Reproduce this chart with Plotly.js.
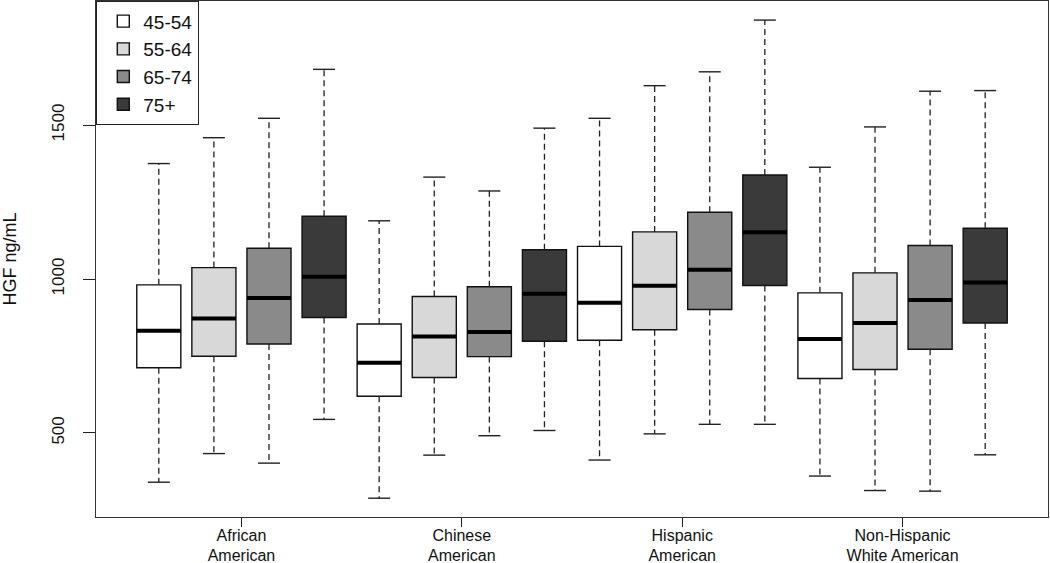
<!DOCTYPE html>
<html>
<head>
<meta charset="utf-8">
<script src="https://cdn.plot.ly/plotly-3.0.1.min.js"></script>
<style>
html,body{margin:0;padding:0;background:#fff;}
#chart{width:1050px;height:563px;}
</style>
</head>
<body>
<div id="chart"></div>
<script>
// ---- data (HGF ng/mL) ----
const categories = ["African<br>American", "Chinese<br>American", "Hispanic<br>American", "Non-Hispanic<br>White American"];
const ageGroups = ["45-54", "55-64", "65-74", "75+"];
const fillColors = ["#FFFFFF", "#D8D8D8", "#8A8A8A", "#3A3A3A"];
// each row: one age group; columns follow categories
const lowerWhisker = [
  [340, 288, 412, 360],
  [433, 428, 497, 313],
  [402, 491, 528, 311],
  [544, 508, 528, 429]
];
const q1 = [
  [712, 619, 801, 677],
  [749, 680, 835, 706],
  [789, 748, 901, 772],
  [875, 798, 979, 857]
];
const median = [
  [832, 728, 923, 805],
  [872, 813, 978, 857],
  [938, 828, 1030, 932],
  [1007, 952, 1152, 989]
];
const q3 = [
  [981, 854, 1106, 955],
  [1037, 943, 1153, 1020],
  [1100, 975, 1217, 1109],
  [1204, 1095, 1338, 1165]
];
const upperWhisker = [
  [1375, 1189, 1522, 1363],
  [1459, 1331, 1628, 1494],
  [1522, 1286, 1673, 1610],
  [1681, 1490, 1841, 1612]
];
const yTicks = [500, 1000, 1500];

// ---- build traces ----
const nG = ageGroups.length;
const boxW = 0.8, capW = 0.4;
const pos = (a, e) => e * nG + a + 1;
const traces = [];
const medX = [], medY = [], whX = [], whY = [], capX = [], capY = [];
ageGroups.forEach((g, a) => {
  const xs = categories.map((c, e) => pos(a, e));
  traces.push({
    type: 'box', name: g, x: xs,
    q1: q1[a], median: median[a], q3: q3[a],
    lowerfence: q1[a], upperfence: q3[a],
    width: boxW, whiskerwidth: 0, boxpoints: false,
    fillcolor: fillColors[a],
    line: {color: '#111', width: 1.4},
    hoverinfo: 'skip'
  });
  xs.forEach((x, e) => {
    medX.push(x - boxW / 2, x + boxW / 2, null); medY.push(median[a][e], median[a][e], null);
    whX.push(x, x, null, x, x, null);
    whY.push(q3[a][e], upperWhisker[a][e], null, q1[a][e], lowerWhisker[a][e], null);
    capX.push(x - capW / 2, x + capW / 2, null, x - capW / 2, x + capW / 2, null);
    capY.push(upperWhisker[a][e], upperWhisker[a][e], null, lowerWhisker[a][e], lowerWhisker[a][e], null);
  });
});
traces.push({type: 'scatter', mode: 'lines', x: whX, y: whY, showlegend: false, hoverinfo: 'skip',
  line: {color: '#222', width: 1.3, dash: '6px,4px'}});
traces.push({type: 'scatter', mode: 'lines', x: capX, y: capY, showlegend: false, hoverinfo: 'skip',
  line: {color: '#222', width: 1.4}});
traces.push({type: 'scatter', mode: 'lines', x: medX, y: medY, showlegend: false, hoverinfo: 'skip',
  line: {color: '#000', width: 4}});

const groupCenters = categories.map((c, e) => e * nG + (nG + 1) / 2);

const font = 'Liberation Sans, Arial, Helvetica, sans-serif';
const layout = {
  width: 1050, height: 563,
  margin: {l: 96, r: 2, t: 1, b: 46},
  paper_bgcolor: '#fff', plot_bgcolor: '#fff',
  font: {family: font, color: '#111', size: 16},
  showlegend: true,
  legend: {x: 0, y: 1, xanchor: 'left', yanchor: 'top',
    bordercolor: '#222', borderwidth: 1.3, bgcolor: '#fff', indentation: 6, entrywidth: 104,
    font: {size: 19, family: font, color: '#111'}, tracegroupgap: 0},
  xaxis: {
    range: [-0.14, 17.14], tickmode: 'array', tickvals: groupCenters, ticktext: categories,
    ticks: 'outside', ticklen: 9, tickcolor: '#222', ticklabelstandoff: -6,
    showgrid: false, zeroline: false,
    showline: true, mirror: true, linecolor: '#333', linewidth: 1.3,
    tickfont: {size: 16}, fixedrange: true
  },
  yaxis: {
    range: [227, 1903], tickmode: 'array', tickvals: yTicks, ticktext: yTicks.map(String),
    ticks: 'outside', ticklen: 12, tickcolor: '#222', tickangle: -90, ticklabelstandoff: 12,
    showgrid: false, zeroline: false, showline: true, mirror: true, linecolor: '#333', linewidth: 1.3,
    tickfont: {size: 17},
    title: {text: 'HGF ng/mL', font: {size: 18}, standoff: 27}, fixedrange: true
  }
};
Plotly.newPlot('chart', traces, layout, {displayModeBar: false, staticPlot: true});
</script>
</body>
</html>
